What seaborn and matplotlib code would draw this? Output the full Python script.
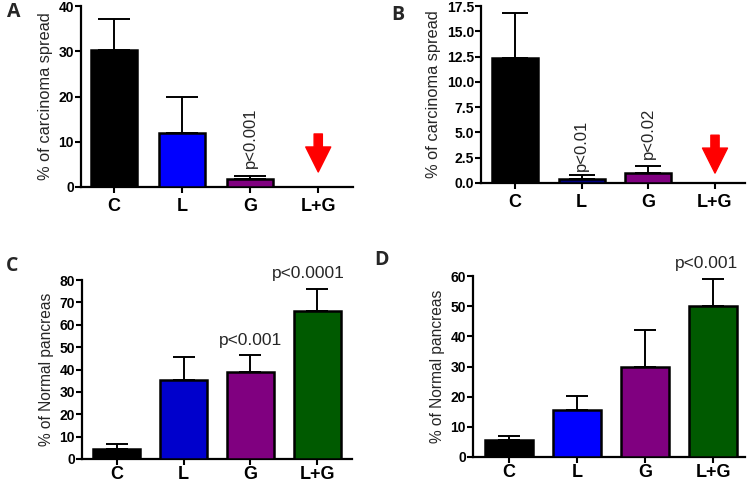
import matplotlib
matplotlib.use("Agg")
import matplotlib.pyplot as plt
import seaborn as sns
import numpy as np

sns.set_theme(style="ticks")
plt.rcParams['font.family'] = ['Liberation Sans', 'DejaVu Sans']

categories = ["C", "L", "G", "L+G"]

# Panel A: % of carcinoma spread
a_mean = [30.3, 12.0, 1.8, 0.0]
a_err = [6.9, 8.0, 0.6, 0.0]
# Panel B: % of carcinoma spread
b_mean = [12.4, 0.4, 0.97, 0.0]
b_err = [4.4, 0.43, 0.75, 0.0]
# Panel C: % of Normal pancreas
c_mean = [4.4, 35.4, 39.0, 66.1]
c_err = [2.3, 10.4, 7.7, 9.7]
# Panel D: % of Normal pancreas
d_mean = [5.6, 15.6, 29.9, 50.0]
d_err = [1.3, 4.6, 12.2, 8.9]

a_colors = ["#000000", "#0000ff", "#800080", "#800080"]
b_colors = ["#000000", "#000080", "#800080", "#800080"]
c_colors = ["#000000", "#0000cc", "#800080", "#005a00"]
d_colors = ["#000000", "#0000ff", "#800080", "#005a00"]

W, H = 750, 483
fig = plt.figure(figsize=(7.5, 4.83), dpi=100)


def px_axes(left, right, top, bottom):
    return fig.add_axes([left / W, (H - bottom) / H, (right - left) / W, (bottom - top) / H])


def panel(ax, means, errs, colors, ylim, yticks, ylabel, xlim, width, capsize, fmt=None,
          xpad=5, ylsize=12):
    sns.barplot(x=categories, y=means, hue=categories, palette=colors, order=categories,
                hue_order=categories, width=width, edgecolor="black", linewidth=1.8,
                legend=False, ax=ax, saturation=1, errorbar=None, zorder=3)
    x = np.arange(len(categories))
    e = np.array(errs)
    m = np.array(means)
    mask = e > 0
    ax.errorbar(x[mask], m[mask], yerr=[np.zeros(mask.sum()), e[mask]], fmt="none",
                ecolor="black", elinewidth=1.4, capsize=capsize, capthick=1.4, zorder=2)
    ax.set_xlim(*xlim)
    ax.set_ylim(*ylim)
    ax.set_yticks(yticks)
    if fmt:
        ax.set_yticklabels([fmt.format(t) for t in yticks])
    ax.set_ylabel(ylabel, fontsize=ylsize, labelpad=4)
    ax.set_xlabel("")
    for s in ["top", "right"]:
        ax.spines[s].set_visible(False)
    for s in ["left", "bottom"]:
        ax.spines[s].set_linewidth(1.6)
        ax.spines[s].set_color("black")
    ax.tick_params(axis="both", direction="out", length=4, width=1.5, colors="black")
    ax.tick_params(axis="y", labelsize=10, pad=1)
    ax.tick_params(axis="x", labelsize=13, pad=xpad)
    for lab in ax.get_xticklabels() + ax.get_yticklabels():
        lab.set_fontweight("bold")


def red_arrow(ax, top, tip):
    ax.annotate("", xy=(3, tip), xytext=(3, top),
                xycoords=("data", "axes fraction"), textcoords=("data", "axes fraction"),
                arrowprops=dict(arrowstyle="simple,head_length=1.0,head_width=1.0,tail_width=0.33",
                                color="#ff0000", shrinkA=0, shrinkB=0, mutation_scale=18))


# A
axA = px_axes(81, 353, 6, 187)
panel(axA, a_mean, a_err, a_colors, (0, 40), [0, 10, 20, 30, 40], "% of carcinoma spread",
      (-0.48, 3.51), 0.67, 11.5, xpad=4, ylsize=11.8)
axA.text(2, 4.2, "p<0.001", rotation=90, ha="center", va="bottom", fontsize=12)
red_arrow(axA, 0.293, 0.083)

# B
axB = px_axes(481, 745, 6, 183)
panel(axB, b_mean, b_err, b_colors, (0, 17.5), list(np.arange(0, 17.6, 2.5)),
      "% of carcinoma spread", (-0.51, 3.45), 0.69, 9.5, fmt="{:.1f}", xpad=4, ylsize=11.8)
axB.text(1, 1.2, "p<0.01", rotation=90, ha="center", va="bottom", fontsize=12)
axB.text(2, 2.4, "p<0.02", rotation=90, ha="center", va="bottom", fontsize=12)
red_arrow(axB, 0.27, 0.056)

# C
axC = px_axes(82, 352, 280, 459)
panel(axC, c_mean, c_err, c_colors, (0, 80), list(range(0, 81, 10)), "% of Normal pancreas",
      (-0.52, 3.52), 0.7, 8, xpad=1, ylsize=11.2)
axC.text(2, 49.5, "p<0.001", ha="center", va="bottom", fontsize=12.5)
axC.text(2.86, 79.5, "p<0.0001", ha="center", va="bottom", fontsize=12.5, clip_on=False)

# D
axD = px_axes(473, 745, 276, 457)
panel(axD, d_mean, d_err, d_colors, (0, 60), list(range(0, 61, 10)), "% of Normal pancreas",
      (-0.53, 3.47), 0.7, 8, xpad=1, ylsize=11.2)
axD.text(2.9, 61.5, "p<0.001", ha="center", va="bottom", fontsize=12.5, clip_on=False)

# Panel letters
for lbl, xx, yy in [("A", 14, 12), ("B", 398, 15), ("C", 12, 266), ("D", 381, 260)]:
    fig.text(xx / W, (H - yy) / H, lbl, fontsize=14, fontweight="bold", ha="center", va="center",
             family=["Open Sans", "DejaVu Sans"])

fig.savefig("out.png", dpi=100)
